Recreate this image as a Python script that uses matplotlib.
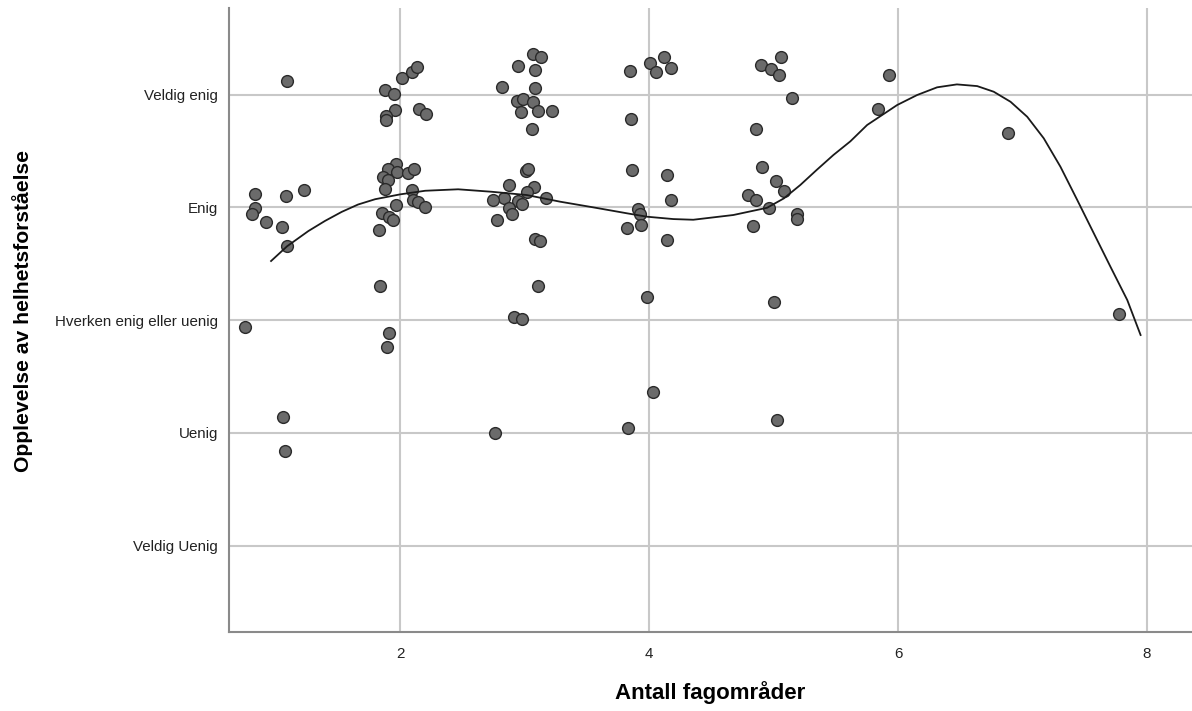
import matplotlib.pyplot as plt
import numpy as np

plt.rcParams['font.family'] = ['Liberation Sans', 'DejaVu Sans']

# punkter (jittered) lest av bildet
x_pts = [1.089, 0.834, 1.228, 1.081, 0.834, 0.813, 0.925, 1.051, 1.092,
         1.879, 1.952, 2.014, 2.096, 2.137, 1.960, 1.887, 1.887, 2.155, 2.207,
         1.970, 1.901, 1.973, 1.861, 1.901, 2.062, 2.115, 1.879, 2.099, 2.102,
         2.142, 2.201, 1.965, 1.858, 1.912, 1.944, 1.829, 1.842, 0.754, 1.912,
         1.893, 1.059, 1.078, 2.766, 2.914, 2.978,
         3.067, 3.133, 2.943, 3.080, 2.822, 3.080, 2.938, 2.991, 3.071, 2.975,
         3.104, 3.222, 3.059, 3.013, 3.026, 2.875, 3.076, 3.018, 2.833, 2.750,
         3.171, 2.951, 2.983, 2.875, 2.897, 2.777, 3.083, 3.120, 3.104,
         4.117, 4.010, 4.055, 4.178, 3.847, 3.855, 3.863, 4.147, 4.176, 3.913,
         3.929, 3.932, 3.823, 4.143, 3.985, 4.034, 3.830,
         5.060, 4.896, 4.982, 5.047, 5.146, 4.862, 4.904, 5.023, 4.795, 4.856,
         5.084, 4.963, 5.185, 5.191, 4.835, 5.002, 5.026,
         5.931, 5.837, 6.885, 7.777]
y_pts = [5.117, 4.118, 4.156, 4.103, 3.996, 3.938, 3.872, 3.828, 3.660,
         5.037, 5.002, 5.144, 5.202, 5.246, 4.863, 4.809, 4.774, 4.874, 4.827,
         4.384, 4.337, 4.316, 4.266, 4.242, 4.304, 4.340, 4.165, 4.156, 4.065,
         4.047, 4.003, 4.018, 3.952, 3.917, 3.885, 3.801, 3.300, 2.939, 2.883,
         2.759, 2.144, 1.837, 2.002, 3.030, 3.007,
         5.362, 5.330, 5.253, 5.215, 5.064, 5.055, 4.942, 4.957, 4.936, 4.845,
         4.854, 4.854, 4.691, 4.324, 4.337, 4.200, 4.183, 4.133, 4.085, 4.062,
         4.082, 4.056, 4.032, 3.994, 3.938, 3.887, 3.722, 3.701, 3.302,
         5.335, 5.277, 5.197, 5.232, 5.208, 4.783, 4.328, 4.286, 4.065, 3.982,
         3.941, 3.843, 3.819, 3.710, 3.207, 2.365, 2.046,
         5.330, 5.264, 5.229, 5.170, 4.972, 4.694, 4.357, 4.236, 4.112, 4.065,
         4.145, 3.994, 3.943, 3.899, 3.837, 3.160, 2.117,
         5.170, 4.874, 4.659, 3.051]

# tilpasset kurve, lest av bildet
x_fit = [0.963, 1.092, 1.263, 1.397, 1.531, 1.662, 1.799, 2.000, 2.201, 2.466,
         2.737, 3.018, 3.286, 3.551, 3.823, 3.983, 4.195, 4.355, 4.677, 4.948,
         5.084, 5.215, 5.346, 5.481, 5.617, 5.752, 5.993, 6.154, 6.314, 6.473,
         6.636, 6.769, 6.904, 7.038, 7.171, 7.305, 7.440, 7.573, 7.707, 7.842,
         7.949]
y_fit = [3.524, 3.655, 3.790, 3.880, 3.960, 4.025, 4.072, 4.115, 4.147, 4.160,
         4.138, 4.109, 4.050, 4.000, 3.947, 3.917, 3.896, 3.890, 3.932, 3.996,
         4.080, 4.198, 4.331, 4.464, 4.585, 4.730, 4.907, 4.996, 5.064, 5.090,
         5.075, 5.025, 4.936, 4.803, 4.612, 4.360, 4.065, 3.770, 3.473, 3.178,
         2.868]

y_ticks = [1, 2, 3, 4, 5]
y_labels = ['Veldig Uenig', 'Uenig', 'Hverken enig eller uenig', 'Enig', 'Veldig enig']
x_ticks = [2, 4, 6, 8]

fig = plt.figure(figsize=(11.92, 7.11), dpi=100)
ax = fig.add_axes([0.1921, 0.1111, 0.8079, 0.8776])

ax.grid(True, color='#c8c8c8', linewidth=1.5, zorder=0)
ax.scatter(x_pts, y_pts, s=72, facecolor='#6b6b6b', edgecolor='#2a2a2a',
           linewidth=1.0, zorder=3)
ax.plot(x_fit, y_fit, color='#1a1a1a', linewidth=1.3, zorder=4)

ax.set_xlim(0.625, 8.362)
ax.set_ylim(0.235, 5.767)
ax.set_xticks(x_ticks)
ax.set_yticks(y_ticks)
ax.set_yticklabels(y_labels)
ax.tick_params(axis='both', length=0, labelsize=10.9, colors='#222222')
ax.tick_params(axis='x', pad=11)
ax.tick_params(axis='y', pad=8)

for s in ['top', 'right']:
    ax.spines[s].set_visible(False)
for s in ['left', 'bottom']:
    ax.spines[s].set_color('#8a8a8a')
    ax.spines[s].set_linewidth(1.5)

ax.set_xlabel('Antall fagområder', fontsize=16, fontweight='bold', labelpad=14)
ax.set_ylabel('Opplevelse av helhetsforståelse', fontsize=15.2, fontweight='bold')
ax.yaxis.set_label_coords(-0.2035, 0.514)

fig.savefig('out.png', dpi=100)
